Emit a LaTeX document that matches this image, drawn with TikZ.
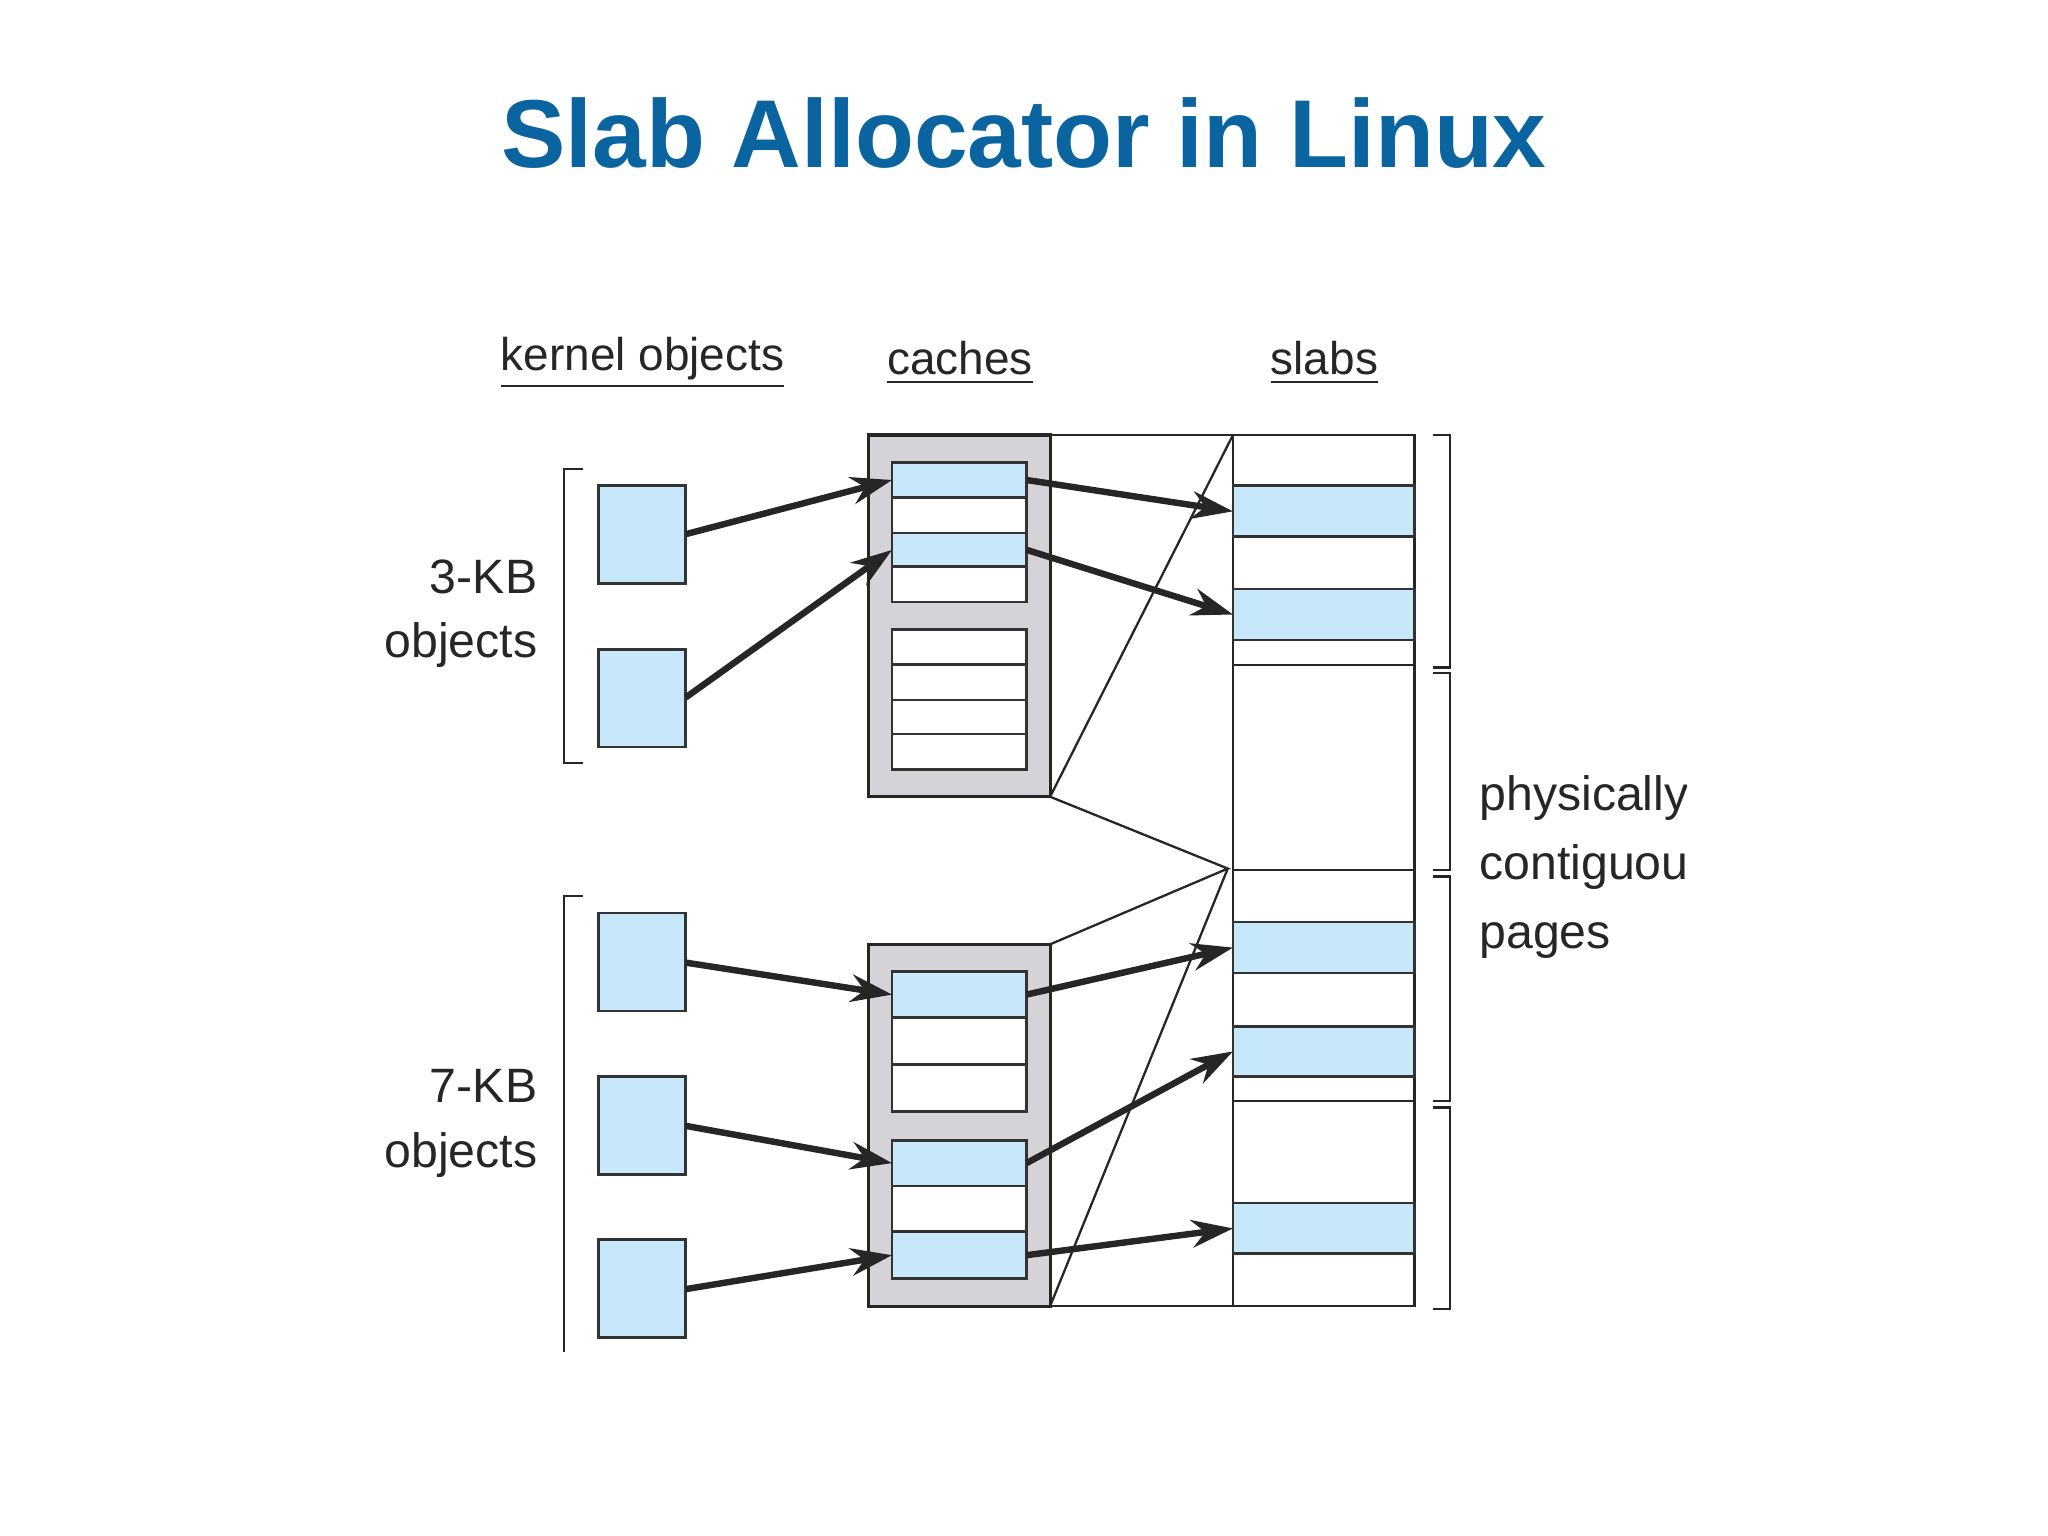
\documentclass[tikz,border=0pt]{standalone}
\usepackage{fontspec}
\setmainfont{Liberation Sans}
\usetikzlibrary{arrows.meta}
\definecolor{lb}{RGB}{199,232,250}
\definecolor{gr}{RGB}{212,212,216}
\definecolor{tb}{RGB}{10,100,160}
\begin{document}
\begin{tikzpicture}[x=0.01cm,y=-0.01cm,
  box/.style={draw=black!80,line width=0.6pt,fill=lb,inner sep=0,outer sep=0},
  wbox/.style={draw=black!80,line width=0.6pt,fill=white,inner sep=0,outer sep=0},
  ln/.style={draw=black!85,line width=0.5pt},
  arr/.style={draw=black!85,line width=1.4pt,-{Stealth[length=9pt,width=6pt]}},
  lbl/.style={font=\fontsize{10.5pt}{12pt}\selectfont,text=black!85,inner sep=0},
  hd/.style={font=\fontsize{10pt}{12pt}\selectfont,text=black!85,inner sep=1pt}]
\useasboundingbox (0,0) rectangle (1568,1176);
\node[font=\bfseries\fontsize{21pt}{24pt}\selectfont,text=tb] (title) at (784,102) {Slab Allocator in Linux};
\node[hd] (h1) at (492,278) {\underline{kernel objects}};
\node[hd] (h2) at (735,278) {\underline{caches}};
\node[hd] (h3) at (1014,278) {\underline{slabs}};
% kernel objects
\foreach \n/\y in {k1/372,k2/497,k3/699,k4/824,k5/949}
  \path[box] (458,\y) rectangle ++(67,75) node[midway,coordinate] (\n) {};
\foreach \n/\y in {k1/409,k2/534,k3/737,k4/862,k5/987}
  \coordinate (\n e) at (525,\y);
% brackets
\draw[ln] (446,359) -- (432,359) -- (432,584) -- (446,584);
\draw[ln] (446,686) -- (432,686) -- (432,1035);
\node[lbl,align=right,anchor=east] (l3) at (412,470) {3-KB\\[2pt]objects};
\node[lbl,align=right,anchor=east] (l7) at (412,860) {7-KB\\[2pt]objects};
% caches
\path[draw=black!85,line width=0.7pt,fill=gr] (665,333) rectangle (804,610);
\path[draw=black!85,line width=0.7pt,fill=gr] (665,723) rectangle (804,1000);
\foreach \n/\a/\b/\s in {c1/354/381/box,c1b/381/408/wbox,c2/408/434/box,c2b/434/461/wbox,
  c3/482/509/wbox,c4/509/536/wbox,c5/536/562/wbox,c6/562/589/wbox,
  d1/744/779/box,d1b/779/815/wbox,d1c/815/851/wbox,d2/873/908/box,d2b/908/943/wbox,d3/943/979/box}
  \node[\s,minimum width=103*0.01cm,minimum height={(\b-\a)*0.01cm}] (\n) at (734.5,{(\a+\b)/2}) {};
% slabs
\path[draw=black!85,line width=0.6pt,fill=white] (944,333) rectangle (1083,1000);
\draw[ln] (804,333) -- (944,333);
\draw[ln] (804,1000) -- (944,1000);
\foreach \n/\a/\b in {s1/372/411,s2/451/490,s3/706/745,s4/786/824,s5/921/960}
  \node[box,minimum width=139*0.01cm,minimum height={(\b-\a)*0.01cm}] (\n) at (1013.5,{(\a+\b)/2}) {};
\foreach \y in {509,666,843} \draw[ln] (944,\y) -- (1083,\y);
% diagonals
\coordinate (m) at (940,665);
\draw[ln] (804,610) -- (944,333);
\draw[ln] (804,610) -- (m) -- (804,723);
\draw[ln] (804,1000) -- (m);
% right brackets
\foreach \a/\b in {333/511,515/666,671/843,848/1002}
  \draw[ln] (1097,\a) -- (1110,\a) -- (1110,\b) -- (1097,\b);
\begin{scope}
\clip (1100,580) rectangle (1291,740);
\node[lbl,align=left,anchor=west] (pcp) at (1132,664) {physically\\[3pt]contiguous\\[3pt]pages};
\end{scope}
% arrows
\draw[arr] (k1e) -- (c1.west);
\draw[arr] (k2e) -- (c2.west);
\draw[arr] (c1.east) -- (s1.west);
\draw[arr] (c2.east) -- (s2.west);
\draw[arr] (k3e) -- (d1.west);
\draw[arr] (k4e) -- (d2.west);
\draw[arr] (k5e) -- (d3.west);
\draw[arr] (d1.east) -- (s3.west);
\draw[arr] (d2.east) -- (s4.west);
\draw[arr] (d3.east) -- (s5.west);
\end{tikzpicture}
\end{document}
